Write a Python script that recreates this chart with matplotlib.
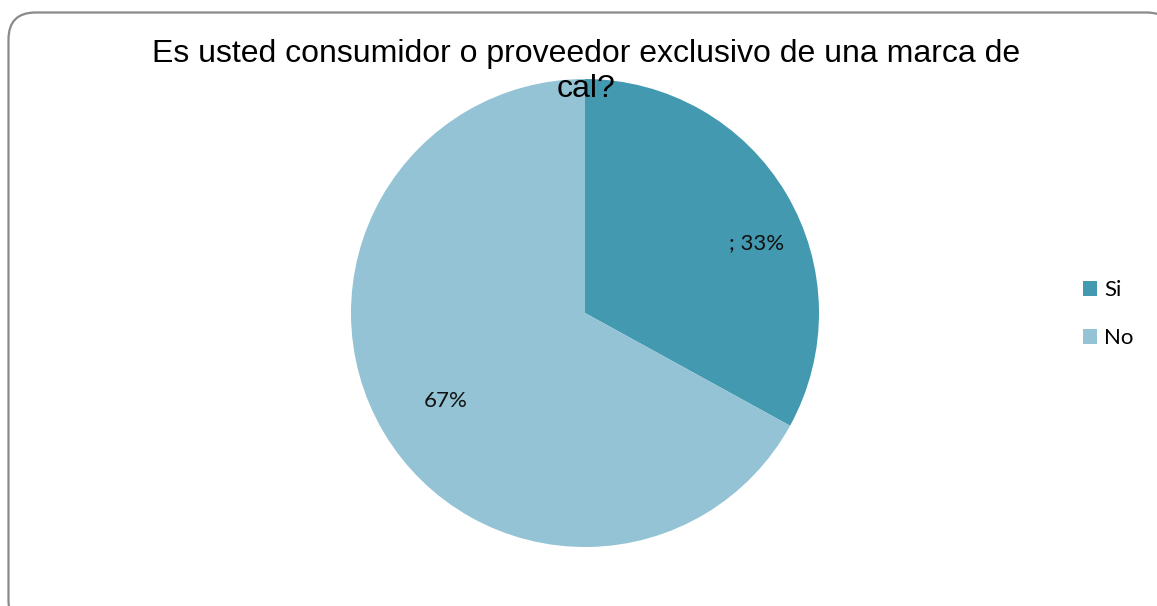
import matplotlib
matplotlib.use("Agg")
import numpy as np
import matplotlib.pyplot as plt
from matplotlib.patches import FancyBboxPatch, Patch

# Survey answers
categories = ["Si", "No"]
shares = [33, 67]
label_texts = ["; 33%", "67%"]
title_text = "Es usted consumidor o proveedor exclusivo de una marca de\ncal?"

colors = ["#4299B0", "#93C3D4"]

W, H = 1157, 606
fig = plt.figure(figsize=(W / 100, H / 100), dpi=100)
fig.patch.set_facecolor("white")

# Background layer in pixel units for the rounded chart frame
bg = fig.add_axes([0, 0, 1, 1])
bg.set_xlim(0, W)
bg.set_ylim(H, 0)
bg.axis("off")
frame = FancyBboxPatch((8.5, 12.5), 1165, 615,
                       boxstyle="round,pad=0,rounding_size=27",
                       fc="white", ec="#8a8a8a", lw=1.6)
bg.add_patch(frame)

# Pie: center (585, 313) px, radius 234 px
cx, cy, r = 585, 313, 234
ax = fig.add_axes([(cx - r) / W, (H - cy - r) / H, 2 * r / W, 2 * r / H])
wedges, _ = ax.pie(shares, colors=colors, startangle=90, counterclock=False,
                   radius=1, wedgeprops=dict(linewidth=0))
ax.set_xlim(-1, 1)
ax.set_ylim(-1, 1)
ax.set_aspect("equal")
ax.axis("off")

label_font = ["Lato", "DejaVu Sans"]
# label placement (radius fraction, angular shift from wedge middle)
placements = [(0.79, -8.5), (0.705, 1.5)]
for w, txt, (rad, shift) in zip(wedges, label_texts, placements):
    mid = np.deg2rad((w.theta1 + w.theta2) / 2 + shift)
    ax.text(rad * np.cos(mid), rad * np.sin(mid), txt,
            ha="center", va="center", fontsize=16,
            family=label_font, color="#111111")

fig.text(586 / W, 1 - 97 / H, title_text, ha="center", va="baseline",
         multialignment="center", fontsize=23,
         family=["Liberation Sans", "DejaVu Sans"], color="black",
         linespacing=1.2)

handles = [Patch(facecolor=c, edgecolor="none") for c in colors]
leg = fig.legend(handles, categories, loc="center left",
                 bbox_to_anchor=(1063 / W, 1 - 314 / H),
                 frameon=False, handlelength=0.65, handleheight=0.65,
                 handletextpad=0.3, labelspacing=1.25,
                 prop=dict(family=label_font, size=16))

fig.savefig("out.png", dpi=100)
